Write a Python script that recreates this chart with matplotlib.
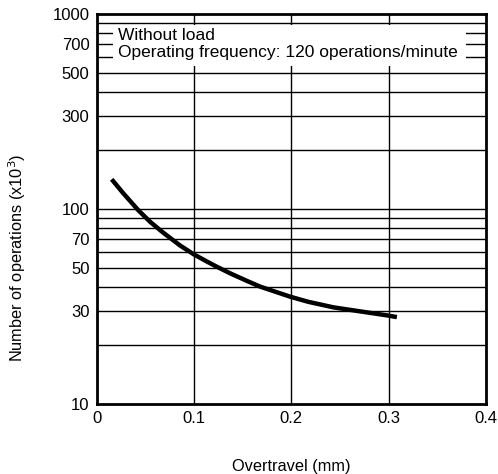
import matplotlib
matplotlib.use("Agg")
import matplotlib.pyplot as plt
from matplotlib.patches import Rectangle

plt.rcParams['font.family'] = ['Liberation Sans', 'DejaVu Sans']

# Data
overtravel = [0.0156, 0.0275, 0.0430, 0.0550, 0.0687, 0.0858, 0.0995, 0.1133, 0.1235,
              0.1372, 0.1544, 0.1680, 0.1989, 0.2177, 0.2434, 0.2777, 0.2999, 0.3085]
operations = [142.0, 120.4, 98.5, 86.0, 75.5, 65.0, 58.7, 53.8, 50.6,
              46.8, 42.8, 40.0, 35.5, 33.4, 31.3, 29.5, 28.4, 27.9]

x_ticks = [0, 0.1, 0.2, 0.3, 0.4]
x_ticklabels = ["0", "0.1", "0.2", "0.3", "0.4"]
y_ticks = [10, 30, 50, 70, 100, 300, 500, 700, 1000]
y_ticklabels = ["10", "30", "50", "70", "100", "300", "500", "700", "1000"]
h_grid = [20, 30, 40, 50, 60, 70, 80, 90, 100, 200, 300, 400, 500, 600, 700, 800, 900]
v_grid = [0.1, 0.2, 0.3]

fig = plt.figure(figsize=(4.98, 4.74), dpi=100)
ax = fig.add_axes([96.5/498, 1-404/474, (486-96.5)/498, (404-14)/474])
ax.set_yscale('log')
ax.set_xlim(0, 0.4)
ax.set_ylim(10, 1000)

for v in h_grid:
    ax.axhline(v, color='black', lw=1.0, zorder=1)
for v in v_grid:
    ax.axvline(v, color='black', lw=1.0, zorder=1)

# white box behind annotation text
ax.add_patch(Rectangle((0.017, 541), 0.3795 - 0.017, 879 - 541, facecolor='white',
                       edgecolor='none', zorder=2))
ax.text(0.0225, 10**(3-(35-14)/195), "Without load", fontsize=12.5, va='center', ha='left', zorder=3)
ax.text(0.0225, 10**(3-(53-14)/195), "Operating frequency: 120 operations/minute", fontsize=12.5,
        va='center', ha='left', zorder=3)

ax.plot(overtravel, operations, color='black', lw=3.2, solid_capstyle='butt',
        solid_joinstyle='round', zorder=4)

ax.set_xticks(x_ticks)
ax.set_xticklabels(x_ticklabels)
ax.set_yticks(y_ticks)
ax.set_yticklabels(y_ticklabels)
ax.minorticks_off()
ax.tick_params(axis='both', length=0, labelsize=12)
ax.tick_params(axis='y', pad=5)
ax.tick_params(axis='x', pad=5)
for s in ax.spines.values():
    s.set_linewidth(2)
    s.set_zorder(5)

fig.text((96.5+486)/2/498, 1-466/474, "Overtravel (mm)", fontsize=11.8, ha='center', va='center')
fig.text(17/498, 1-258/474, "Number of operations (x10$^3$)", fontsize=11.8, ha='center', va='center',
         rotation=90)

fig.savefig("out.png", dpi=100)
